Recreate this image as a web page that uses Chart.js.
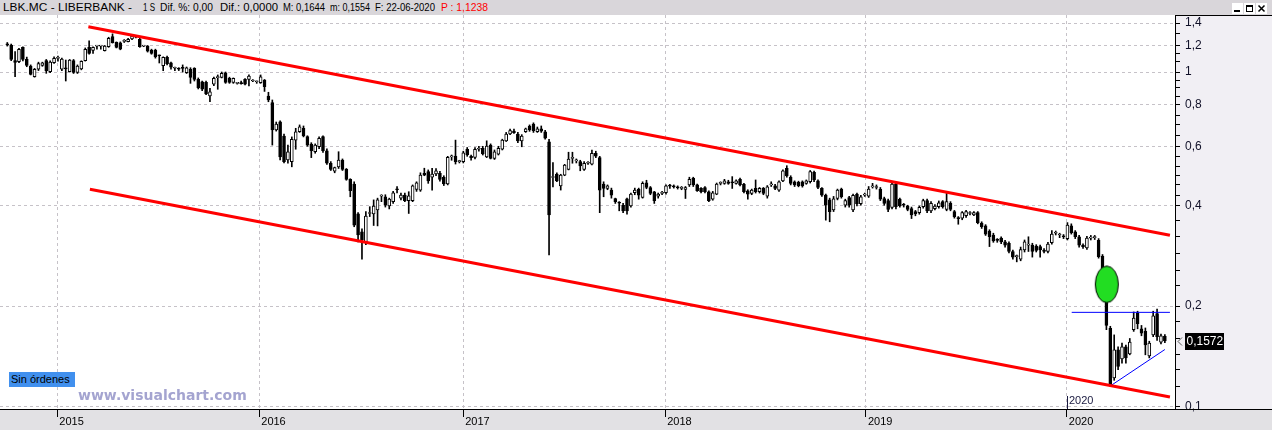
<!DOCTYPE html>
<html>
<head>
<meta charset="utf-8">
<script src="https://cdn.jsdelivr.net/npm/chart.js@4.4.0/dist/chart.umd.min.js"></script>
<style>
html,body{margin:0;padding:0;width:1272px;height:430px;overflow:hidden;background:#f1eff4;font-family:"Liberation Sans",Arial,sans-serif;}
#cv{position:absolute;left:0;top:0;}
#hdr{position:absolute;left:0;top:0;width:1272px;height:15px;background:#d9d6da;font-size:11px;color:#000;z-index:2;}
#hdr span{position:absolute;top:1px;white-space:pre;line-height:13px;transform-origin:0 50%;}
.btn{position:absolute;top:3px;width:11px;height:11px;background:#fff;}
#sin{position:absolute;left:9px;top:372px;width:66px;height:15px;background:#4190ee;color:#000;font-size:11px;line-height:15px;padding-left:2px;box-sizing:border-box;white-space:nowrap;overflow:hidden;z-index:2;}
#wm{position:absolute;left:78px;top:387px;font-family:"DejaVu Sans",sans-serif;font-weight:bold;font-size:14px;line-height:16px;color:#a4a4d0;z-index:2;white-space:nowrap;}
</style>
</head>
<body>
<canvas id="cv" width="1272" height="430"></canvas>
<div id="hdr">
  <span style="left:3px" data-w="129">LBK.MC - LIBERBANK -</span>
  <span style="left:143px" data-w="12">1 S</span>
  <span style="left:160px" data-w="53">Dif. %: 0,00</span>
  <span style="left:220px" data-w="58">Dif.: 0,0000</span>
  <span style="left:283px" data-w="42">M: 0,1644</span>
  <span style="left:330px" data-w="40">m: 0,1554</span>
  <span style="left:375px" data-w="60">F: 22-06-2020</span>
  <span style="left:441px;color:#ff0000" data-w="47">P : 1,1238</span>
  <div class="btn" style="left:1232px"><div style="position:absolute;left:2px;top:7px;width:6px;height:2px;background:#000"></div></div>
  <div class="btn" style="left:1244px"><div style="position:absolute;left:2px;top:2px;width:5px;height:4px;border:1px solid #000;border-top-width:2px"></div></div>
  <div class="btn" style="left:1256px"><svg width="11" height="11" style="position:absolute;left:0;top:0"><path d="M2.5 2.5 L8.5 8.5 M8.5 2.5 L2.5 8.5" stroke="#000" stroke-width="1.5"/></svg></div>
</div>
<div id="sin">Sin órdenes</div>
<div id="wm">www.visualchart.com</div>
<script>
// fit header segments to their measured widths
document.querySelectorAll('#hdr span[data-w]').forEach(s => {
  const w = s.getBoundingClientRect().width;
  if (w > 0) s.style.transform = 'scaleX(' + (parseFloat(s.dataset.w) / w) + ')';
});

// ---- weekly OHLC (LBK.MC), week 0 .. 297 ----
const openP = [
1.21,1.204,1.081,1.073,1.185,1.091,1.042,0.968,1.019,1.047,
1.081,1.002,1.066,1.098,1.019,1.030,1.002,1.081,0.998,1.021,
1.081,1.185,1.16,1.195,1.195,1.158,1.19,1.275,1.227,1.223,
1.235,1.232,1.255,1.27,1.252,1.195,1.195,1.163,1.163,1.12,
1.044,1.106,1.066,1.026,1.021,1.026,0.995,1.019,1.026,0.951,
0.935,0.931,0.848,0.919,0.962,0.964,0.995,0.957,0.931,0.925,
0.925,0.951,0.951,0.94,0.935,0.929,0.946,0.848,0.810,0.671,
0.710,0.644,0.546,0.540,0.626,0.663,0.679,0.641,0.609,0.578,
0.598,0.641,0.582,0.534,0.506,0.521,0.546,0.512,0.478,0.463,
0.377,0.333,0.309,0.378,0.377,0.387,0.426,0.424,0.398,0.410,
0.447,0.42,0.429,0.413,0.413,0.446,0.444,0.498,0.504,0.485,
0.496,0.498,0.485,0.463,0.558,0.561,0.54,0.540,0.588,0.56,
0.556,0.588,0.592,0.558,0.605,0.552,0.568,0.588,0.623,0.653,
0.666,0.653,0.623,0.663,0.690,0.699,0.663,0.676,0.663,0.619,
0.484,0.496,0.457,0.492,0.512,0.552,0.543,0.540,0.512,0.534,
0.531,0.572,0.555,0.463,0.449,0.444,0.419,0.407,0.400,0.418,
0.398,0.436,0.446,0.422,0.467,0.452,0.439,0.426,0.434,0.436,
0.457,0.455,0.452,0.449,0.446,0.460,0.481,0.46,0.449,0.452,
0.439,0.417,0.432,0.465,0.465,0.47,0.468,0.465,0.478,0.462,
0.442,0.434,0.449,0.439,0.449,0.426,0.46,0.457,0.444,0.473,
0.516,0.485,0.47,0.468,0.47,0.465,0.470,0.502,0.473,0.449,
0.429,0.415,0.387,0.419,0.447,0.40,0.422,0.387,0.432,0.404,
0.429,0.426,0.454,0.452,0.447,0.419,0.413,0.394,0.463,0.417,
0.401,0.398,0.391,0.383,0.380,0.396,0.413,0.385,0.391,0.396,
0.41,0.389,0.405,0.383,0.366,0.366,0.372,0.378,0.374,0.380,
0.354,0.347,0.335,0.326,0.315,0.319,0.311,0.308,0.291,0.281,
0.276,0.294,0.304,0.304,0.302,0.301,0.294,0.291,0.309,0.33,
0.326,0.323,0.318,0.347,0.333,0.322,0.304,0.298,0.319,0.32,
0.314,0.282,0.259,0.1715,0.122,0.148,0.139,0.151,0.144,0.170,
0.191,0.171,0.168,0.142,0.164,0.19,0.156,0.1625];
const highP = [
1.225,1.212,1.15,1.177,1.19,1.108,1.05,1.025,1.07,1.07,
1.09,1.08,1.11,1.116,1.1,1.086,1.09,1.09,1.05,1.08,
1.18,1.24,1.19,1.2,1.2,1.2,1.27,1.30,1.23,1.23,
1.25,1.26,1.29,1.28,1.27,1.2,1.2,1.17,1.17,1.124,
1.11,1.115,1.07,1.035,1.03,1.05,1.035,1.03,1.03,0.96,
0.94,0.94,0.894,0.965,0.98,1.0,1.0,0.965,0.96,0.93,
0.94,0.955,0.98,0.95,0.94,0.98,0.95,0.87,0.825,0.709,
0.715,0.653,0.605,0.640,0.679,0.695,0.69,0.645,0.615,0.61,
0.64,0.645,0.59,0.54,0.52,0.578,0.55,0.515,0.48,0.47,
0.38,0.34,0.383,0.396,0.415,0.42,0.43,0.43,0.42,0.44,
0.455,0.435,0.435,0.439,0.46,0.47,0.50,0.516,0.51,0.516,
0.515,0.505,0.49,0.56,0.565,0.626,0.545,0.58,0.595,0.565,
0.595,0.6,0.6,0.623,0.61,0.585,0.60,0.63,0.66,0.675,
0.675,0.66,0.65,0.68,0.695,0.705,0.685,0.69,0.67,0.629,
0.536,0.50,0.495,0.53,0.576,0.576,0.55,0.545,0.54,0.54,
0.585,0.58,0.56,0.47,0.46,0.45,0.42,0.41,0.405,0.42,
0.435,0.45,0.45,0.47,0.475,0.455,0.44,0.435,0.44,0.46,
0.462,0.46,0.457,0.455,0.455,0.485,0.485,0.463,0.452,0.455,
0.442,0.44,0.466,0.47,0.478,0.475,0.487,0.476,0.482,0.465,
0.445,0.447,0.476,0.452,0.452,0.458,0.47,0.462,0.473,0.51,
0.525,0.49,0.473,0.472,0.473,0.476,0.508,0.506,0.476,0.452,
0.432,0.42,0.425,0.447,0.45,0.417,0.425,0.432,0.435,0.428,
0.435,0.455,0.465,0.46,0.452,0.423,0.417,0.47,0.47,0.42,
0.405,0.40,0.395,0.386,0.398,0.417,0.417,0.41,0.402,0.412,
0.413,0.434,0.41,0.386,0.37,0.383,0.386,0.383,0.383,0.383,
0.357,0.35,0.338,0.33,0.318,0.322,0.314,0.311,0.294,0.284,
0.30,0.315,0.322,0.308,0.305,0.304,0.297,0.31,0.336,0.335,
0.33,0.327,0.355,0.352,0.336,0.325,0.307,0.323,0.325,0.325,
0.318,0.285,0.262,0.174,0.164,0.151,0.155,0.153,0.16,0.192,
0.193,0.175,0.172,0.157,0.193,0.196,0.165,0.1644];
const lowP = [
1.195,1.081,0.968,1.066,1.08,1.037,0.98,0.965,1.01,1.04,
0.991,0.995,1.06,1.078,1.01,0.94,1.0,0.99,0.99,1.015,
1.078,1.13,1.137,1.17,1.17,1.155,1.185,1.22,1.18,1.165,
1.225,1.23,1.25,1.265,1.185,1.19,1.147,1.13,1.10,1.064,
1.009,1.05,1.02,1.01,1.01,1.0,0.99,0.925,0.94,0.89,
0.88,0.855,0.815,0.91,0.888,0.96,0.925,0.925,0.925,0.92,
0.92,0.915,0.908,0.935,0.925,0.925,0.875,0.815,0.605,0.666,
0.546,0.535,0.534,0.521,0.588,0.66,0.64,0.60,0.555,0.572,
0.59,0.575,0.53,0.508,0.50,0.515,0.508,0.475,0.424,0.345,
0.311,0.276,0.305,0.370,0.348,0.347,0.41,0.395,0.39,0.405,
0.435,0.415,0.41,0.378,0.41,0.44,0.44,0.49,0.465,0.444,
0.49,0.472,0.458,0.46,0.545,0.531,0.535,0.535,0.56,0.545,
0.55,0.58,0.565,0.555,0.55,0.548,0.565,0.585,0.62,0.65,
0.655,0.615,0.598,0.66,0.665,0.66,0.66,0.66,0.63,0.284,
0.454,0.47,0.444,0.49,0.51,0.534,0.535,0.507,0.508,0.53,
0.528,0.555,0.380,0.424,0.445,0.42,0.405,0.385,0.38,0.376,
0.395,0.43,0.417,0.42,0.448,0.43,0.405,0.42,0.43,0.432,
0.449,0.45,0.447,0.445,0.419,0.455,0.455,0.44,0.435,0.435,
0.41,0.414,0.43,0.46,0.462,0.462,0.449,0.462,0.457,0.435,
0.417,0.43,0.435,0.435,0.43,0.42,0.455,0.445,0.44,0.47,
0.485,0.46,0.455,0.454,0.453,0.462,0.466,0.47,0.448,0.425,
0.361,0.357,0.383,0.415,0.42,0.395,0.395,0.383,0.398,0.40,
0.425,0.422,0.45,0.447,0.413,0.40,0.383,0.39,0.39,0.395,
0.395,0.385,0.365,0.372,0.376,0.392,0.38,0.38,0.387,0.392,
0.392,0.385,0.385,0.366,0.351,0.362,0.368,0.374,0.372,0.352,
0.341,0.325,0.301,0.31,0.31,0.307,0.30,0.288,0.276,0.271,
0.273,0.29,0.291,0.28,0.29,0.28,0.288,0.288,0.306,0.326,
0.32,0.318,0.315,0.328,0.318,0.30,0.297,0.295,0.315,0.316,
0.278,0.256,0.170,0.115,0.12,0.129,0.135,0.135,0.143,0.168,
0.171,0.163,0.143,0.14,0.162,0.158,0.154,0.1554];
const closeP = [
1.205,1.091,1.069,1.169,1.091,1.047,0.984,1.019,1.059,1.066,
1.009,1.071,1.099,1.1,1.093,1.021,1.086,0.998,1.042,1.076,
1.169,1.137,1.185,1.197,1.195,1.195,1.26,1.223,1.185,1.17,
1.24,1.252,1.28,1.275,1.19,1.195,1.155,1.137,1.11,1.118,
1.106,1.059,1.033,1.026,1.02,1.025,1.03,0.964,0.951,0.898,
0.888,0.86,0.873,0.957,0.962,0.991,0.931,0.931,0.957,0.925,
0.923,0.919,0.973,0.94,0.935,0.968,0.904,0.825,0.671,0.699,
0.558,0.540,0.578,0.629,0.663,0.686,0.644,0.605,0.582,0.605,
0.634,0.582,0.534,0.512,0.518,0.546,0.512,0.478,0.442,0.349,
0.326,0.315,0.371,0.380,0.398,0.415,0.427,0.40,0.417,0.436,
0.445,0.429,0.413,0.427,0.457,0.467,0.492,0.492,0.473,0.496,
0.507,0.478,0.463,0.556,0.558,0.540,0.54,0.574,0.565,0.555,
0.588,0.589,0.569,0.601,0.552,0.578,0.592,0.626,0.653,0.668,
0.659,0.623,0.644,0.676,0.671,0.668,0.676,0.666,0.634,0.374,
0.485,0.473,0.492,0.527,0.549,0.553,0.543,0.524,0.534,0.535,
0.572,0.561,0.444,0.449,0.457,0.429,0.410,0.406,0.385,0.385,
0.432,0.444,0.429,0.465,0.452,0.434,0.413,0.432,0.435,0.457,
0.456,0.454,0.451,0.45,0.452,0.478,0.46,0.442,0.439,0.439,
0.413,0.436,0.463,0.466,0.473,0.465,0.467,0.473,0.46,0.439,
0.432,0.444,0.439,0.449,0.434,0.454,0.461,0.449,0.47,0.507,
0.489,0.465,0.46,0.458,0.457,0.473,0.504,0.476,0.452,0.429,
0.40,0.383,0.418,0.444,0.424,0.413,0.40,0.428,0.404,0.424,
0.43,0.447,0.455,0.452,0.417,0.405,0.389,0.463,0.396,0.398,
0.40,0.389,0.374,0.377,0.394,0.413,0.385,0.405,0.398,0.407,
0.396,0.41,0.389,0.370,0.365,0.380,0.383,0.379,0.380,0.355,
0.345,0.328,0.322,0.313,0.314,0.311,0.304,0.291,0.280,0.281,
0.295,0.311,0.305,0.291,0.293,0.294,0.291,0.306,0.328,0.33,
0.326,0.322,0.349,0.331,0.322,0.304,0.301,0.319,0.32,0.321,
0.281,0.259,0.175,0.116,0.148,0.132,0.151,0.14,0.156,0.184,
0.177,0.166,0.153,0.155,0.187,0.162,0.163,0.1572];

// ---- axis ticks ----
const yearLabels = ['2015','2016','2017','2018','2019','2020'];
const yearTickPos = [12.83, 64.65, 116.98, 168.8, 220.3, 271.85]; // week-index of each year start
const yMajorTicks = [0.1, 0.2, 0.4, 0.6, 0.8, 1, 1.2, 1.4];
const yMinorTicks = [0.115,0.129,0.143,0.16,0.18,0.23,0.256,0.288,0.322,0.361,0.429,0.46,0.492,0.521,0.558,0.648,0.695,0.744,0.844,0.896,0.946,1.073,1.137,1.303];

// ---- drawn trend lines & marker ----
const upperChannel = [{x:20.8, y:1.366}, {x:298.3, y:0.3255}];
const lowerChannel = [{x:21.2, y:0.4466}, {x:298.3, y:0.1070}];
const resistanceLine = [{x:273.1, y:0.1915}, {x:298.3, y:0.1915}];
const supportLine = [{x:283.0, y:0.1154}, {x:297.0, y:0.1483}];
const markerPoint = [{x:282.1, y:0.2322}];

const xMin = -1.87, xMax = 299.6;
const yMin = 0.09851, yMax = 1.48;

const FONT = 'Liberation Sans';
Chart.defaults.font.family = FONT;

function makeEllipse() {
  const c = document.createElement('canvas');
  c.width = 26; c.height = 40;
  const g = c.getContext('2d');
  g.beginPath();
  g.ellipse(13, 20, 11.5, 18.3, 0, 0, Math.PI * 2);
  g.fillStyle = '#22dd22';
  g.fill();
  g.lineWidth = 1;
  g.strokeStyle = '#000';
  g.stroke();
  return c;
}

const idx = openP.map((_, i) => i);
const wickData = idx.map(i => ({x: i, y: [lowP[i], highP[i]]}));
const bodyData = idx.map(i => ({x: i, y: [openP[i], closeP[i]]}));
const yTickVals = [...yMajorTicks, ...yMinorTicks].sort((a, b) => a - b);
const fmt = v => String(v).replace('.', ',');

const decor = {
  id: 'decor',
  beforeDraw(chart) {
    const {ctx, chartArea: a, width, height} = chart;
    ctx.save();
    ctx.fillStyle = '#f1eff4';
    ctx.fillRect(0, 0, width, height);
    ctx.fillStyle = '#e2e1e4';
    ctx.fillRect(0, a.bottom, width, height - a.bottom);
    ctx.fillStyle = '#ffffff';
    ctx.fillRect(a.left, a.top, a.right - a.left, a.bottom - a.top);
    ctx.restore();
  },
  afterDraw(chart) {
    const {ctx, chartArea: a, width, scales} = chart;
    ctx.save();
    ctx.strokeStyle = '#000';
    ctx.lineWidth = 1;
    ctx.beginPath();
    ctx.moveTo(a.right, a.bottom + 0.5); ctx.lineTo(width, a.bottom + 0.5);
    ctx.moveTo(a.right, a.top + 0.5); ctx.lineTo(width, a.top + 0.5);
    ctx.stroke();
    // inner year marker
    const px = Math.round(scales.x.getPixelForValue(yearTickPos[5])) + 0.5;
    ctx.strokeStyle = '#1a1a40';
    ctx.beginPath(); ctx.moveTo(px, a.bottom - 13); ctx.lineTo(px, a.bottom); ctx.stroke();
    ctx.fillStyle = '#1a1a40';
    ctx.font = '11px ' + FONT;
    ctx.textBaseline = 'middle';
    ctx.textAlign = 'left';
    ctx.fillText(yearLabels[5], px + 1.5, a.bottom - 8);
    // last price label
    const last = closeP[closeP.length - 1];
    const py = Math.round(scales.y.getPixelForValue(last));
    ctx.fillStyle = '#000';
    ctx.fillRect(a.right + 10, py - 8, 39, 17);
    ctx.fillStyle = '#fff';
    ctx.font = '12px ' + FONT;
    ctx.fillText(fmt(last), a.right + 11.5, py + 0.5);
    ctx.strokeStyle = '#555';
    ctx.beginPath();
    ctx.moveTo(a.right + 7, py - 3.5); ctx.lineTo(a.right + 3, py + 0.5); ctx.lineTo(a.right + 7, py + 4.5);
    ctx.stroke();
    ctx.restore();
  }
};

new Chart(document.getElementById('cv'), {
  type: 'bar',
  data: {
    datasets: [
      {type: 'line', data: upperChannel, borderColor: '#ff0000', borderWidth: 3, pointRadius: 0, order: 0},
      {type: 'line', data: lowerChannel, borderColor: '#ff0000', borderWidth: 3, pointRadius: 0, order: 0},
      {type: 'line', data: resistanceLine, borderColor: '#0000ff', borderWidth: 1, pointRadius: 0, order: 0},
      {type: 'line', data: supportLine, borderColor: '#0000ff', borderWidth: 1, pointRadius: 0, order: 0},
      {type: 'line', data: markerPoint, showLine: false, pointStyle: makeEllipse(), pointRadius: 12, order: 1},
      {type: 'bar', data: bodyData, barThickness: 3, grouped: false, minBarLength: 1,
        backgroundColor: c => (closeP[c.dataIndex] >= openP[c.dataIndex] ? '#ffffff' : '#000000'),
        borderColor: '#000000', borderWidth: 1, borderSkipped: false, order: 2},
      {type: 'bar', data: wickData, barThickness: 1, grouped: false, minBarLength: 1,
        backgroundColor: '#000000', borderWidth: 0, order: 3}
    ]
  },
  options: {
    responsive: false,
    devicePixelRatio: 1,
    animation: false,
    events: [],
    layout: {autoPadding: false, padding: {top: 15, left: 0, right: 0, bottom: 0}},
    plugins: {legend: {display: false}, tooltip: {enabled: false}},
    scales: {
      x: {
        type: 'linear', position: 'bottom', min: xMin, max: xMax, offset: false,
        afterBuildTicks: s => { s.ticks = yearTickPos.map(v => ({value: v})); },
        afterFit: s => { s.height = 21; },
        ticks: {autoSkip: false, maxRotation: 0, minRotation: 0, align: 'start', labelOffset: 2, padding: -2,
          color: '#000', font: {family: FONT, size: 11}, callback: (v, i) => yearLabels[i]},
        grid: {offset: false, color: '#c6c2c8', lineWidth: 1, drawTicks: true, tickLength: 8, tickColor: '#000', tickWidth: 1},
        border: {display: true, color: '#000', width: 1, dash: [3, 3]}
      },
      y: {
        type: 'logarithmic', position: 'right', min: yMin, max: yMax,
        afterBuildTicks: s => { s.ticks = yTickVals.map(v => ({value: v})); },
        afterFit: s => { s.width = 97; },
        ticks: {autoSkip: false, padding: 5, color: '#101028', font: {family: FONT, size: 12},
          callback: v => (yMajorTicks.includes(v) ? fmt(v) : '')},
        grid: {color: c => (c.tick && yMajorTicks.includes(c.tick.value) ? '#c6c2c8' : 'rgba(0,0,0,0)'),
          tickLength: 5, tickColor: '#000', tickWidth: 1, drawTicks: true},
        border: {display: true, color: '#000', width: 1, dash: [3, 3]}
      }
    }
  },
  plugins: [decor]
});
</script>
</body>
</html>
